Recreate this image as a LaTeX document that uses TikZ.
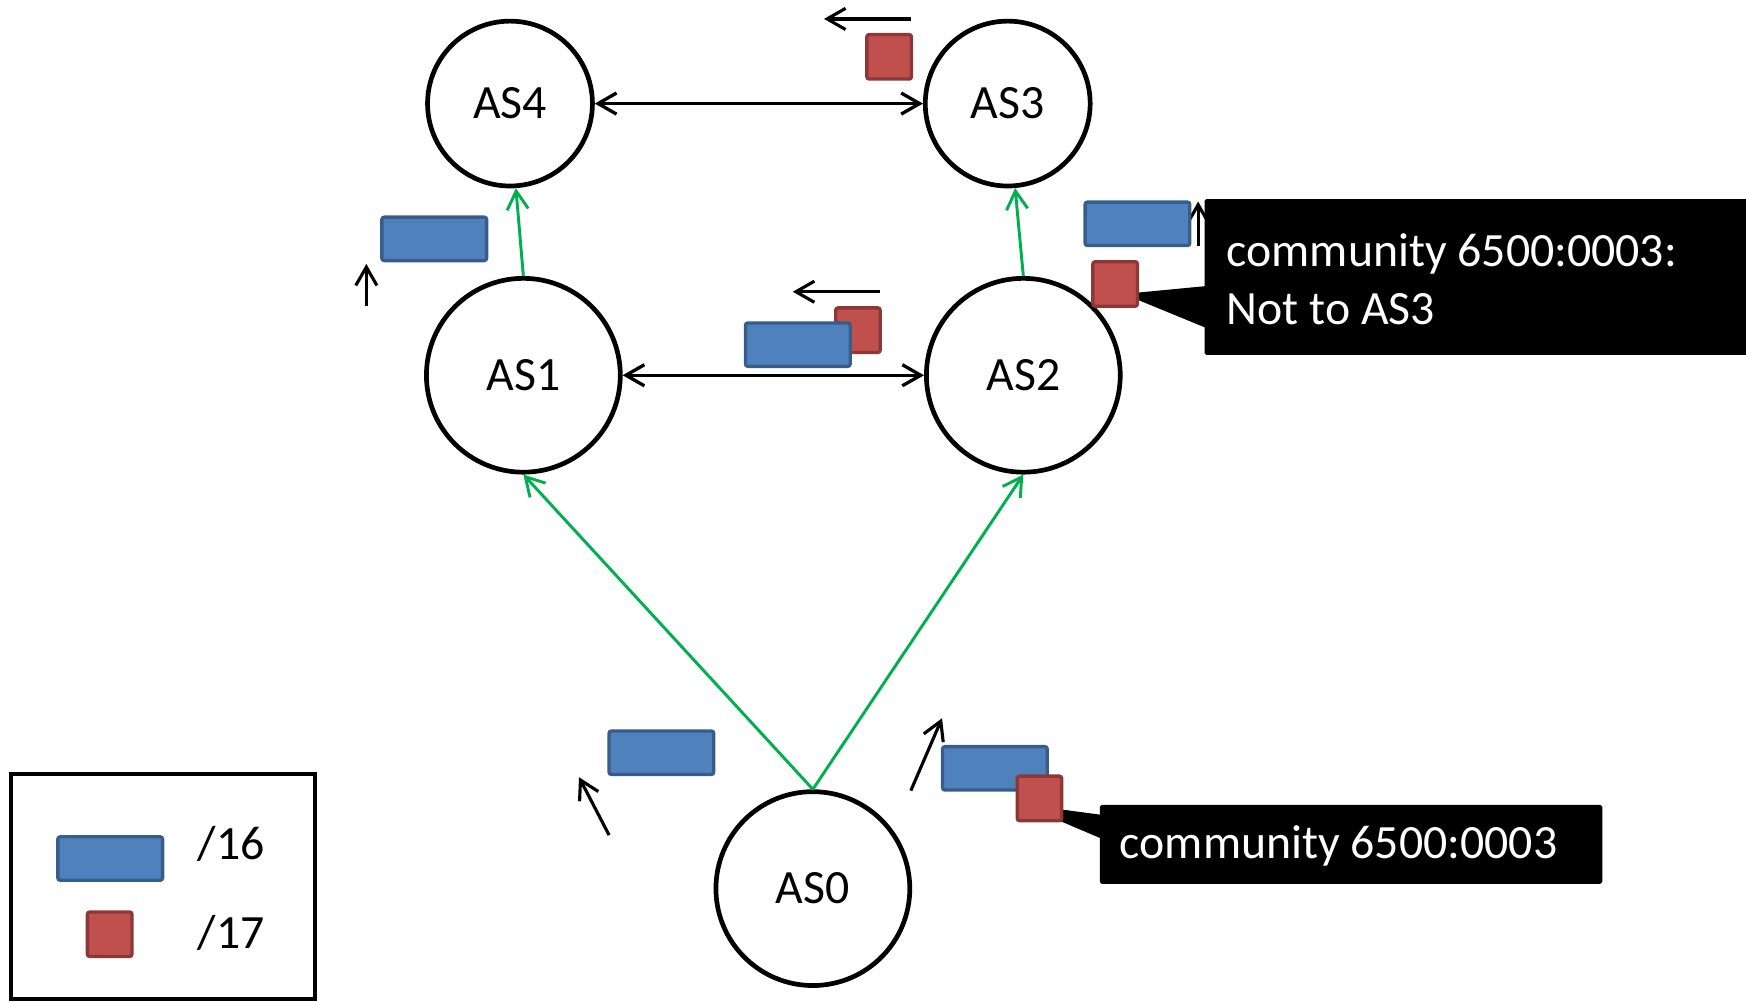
\documentclass[tikz,border=0pt]{standalone}
\usepackage{fontspec}
\setmainfont{Carlito}
\usetikzlibrary{arrows.meta,calc}
\definecolor{obl}{HTML}{4F81BD}
\definecolor{oblb}{HTML}{385D8A}
\definecolor{ord}{HTML}{C0504D}
\definecolor{ordb}{HTML}{8C3836}
\definecolor{ogr}{HTML}{00B050}
\begin{document}
\begin{tikzpicture}[x=0.01cm,y=-0.01cm,
  txt/.style={font=\fontsize{12.2}{14.8}\selectfont},
  asnode/.style={circle,draw=black,line width=1.2pt,fill=white,inner sep=0pt,txt},
  smallas/.style={asnode,minimum size=1.48cm},
  bigas/.style={asnode,minimum size=1.74cm},
  peer/.style={draw=black,line width=0.85pt,{Straight Barb[length=4.7pt,width=5.4pt]}-{Straight Barb[length=4.7pt,width=5.4pt]}},
  prov/.style={draw=ogr,line width=0.75pt,-{Straight Barb[length=4.7pt,width=5.4pt]}},
  flow/.style={draw=black,line width=0.8pt,-{Straight Barb[length=4.7pt,width=5.4pt]}},
  bluebox/.style={rectangle,draw=oblb,fill=obl,line width=0.85pt,minimum width=0.94cm,minimum height=0.39cm,inner sep=0pt,rounded corners=0.6pt},
  redbox/.style={rectangle,draw=ordb,fill=ord,line width=0.85pt,minimum width=0.40cm,minimum height=0.40cm,inner sep=0pt,rounded corners=0.6pt},
  callbox/.style={rectangle,fill=black,inner sep=0pt,rounded corners=0.5pt,anchor=north west},
  calltext/.style={txt,text=white,inner sep=0pt}
]
\useasboundingbox (0,0) rectangle (1568,899);

% AS nodes
\node[smallas] (as4) at (458,93) {AS4};
\node[smallas] (as3) at (905,93) {AS3};
\node[bigas] (as1) at (470,337) {AS1};
\node[bigas] (as2) at (919,337) {AS2};
\node[bigas] (as0) at (730,798) {AS0};

% links
\draw[peer] (as4) -- (as3);
\draw[peer] (as1) -- (as2);
\draw[prov] (as1.north) -- (as4.274);
\draw[prov] (as2.north) -- (as3.275);
\draw[prov] (as0.north) -- (as1.south);
\draw[prov] (as0.north) -- (as2.south);

% small direction arrows
\coordinate (f1s) at (818,17);  \coordinate (f1e) at (740,17);
\coordinate (f2s) at (790,262); \coordinate (f2e) at (712,262);
\coordinate (f3s) at (329,275); \coordinate (f3e) at (329,237);
\coordinate (f4s) at (1076,221); \coordinate (f4e) at (1076,181);
\coordinate (f5s) at (547,750); \coordinate (f5e) at (520,698);
\coordinate (f6s) at (818,710); \coordinate (f6e) at (846,645);
\draw[flow] (f1s) -- (f1e);
\draw[flow] (f2s) -- (f2e);
\draw[flow] (f3s) -- (f3e);
\draw[flow] (f4s) -- (f4e);
\draw[flow] (f5s) -- (f5e);
\draw[flow] (f6s) -- (f6e);

% callouts
\node[callbox,minimum width=5.0cm,minimum height=1.40cm] (cb1) at (1081,178) {};
\coordinate (tip1) at (1009,264);
\fill ($(cb1.north west)+(1,79)$) -- (tip1) -- ($(cb1.north west)+(1,116)$) -- cycle;
\node[calltext,anchor=north west,align=left] (ct1) at (1101,209) {community 6500:0003:\\Not to AS3};

\node[callbox,minimum width=4.51cm,minimum height=0.71cm] (cb2) at (987,722) {};
\coordinate (tip2) at (916,722);
\fill ($(cb2.north west)+(1,9.6)$) -- (tip2) -- ($(cb2.north west)+(1,30.6)$) -- cycle;
\node[calltext,anchor=base west] (ct2) at (1005,771) {community 6500:0003};

% prefixes
\node[bluebox] (bp1) at (390,214.5) {};
\node[redbox] (rp3) at (798.5,51) {};
\node[redbox] (rpm) at (770.5,296.5) {};
\node[bluebox] (bpm) at (716.5,309.5) {};
\node[bluebox] (bp2) at (1021.5,201) {};
\node[redbox] (rp2) at (1001.5,255) {};
\node[bluebox] (bp0l) at (594,676) {};
\node[bluebox] (bp0r) at (893.5,690) {};
\node[redbox] (rp0) at (933.5,717) {};

% legend
\draw[line width=1.1pt] (10,695) rectangle (283,897);
\node[bluebox] (lgb) at (99,771) {};
\node[redbox] (lgr) at (98.5,839) {};
\node[txt,anchor=base west,inner sep=0pt] (lg16) at (177,772) {/16};
\node[txt,anchor=base west,inner sep=0pt] (lg17) at (177,852) {/17};
\end{tikzpicture}
\end{document}
